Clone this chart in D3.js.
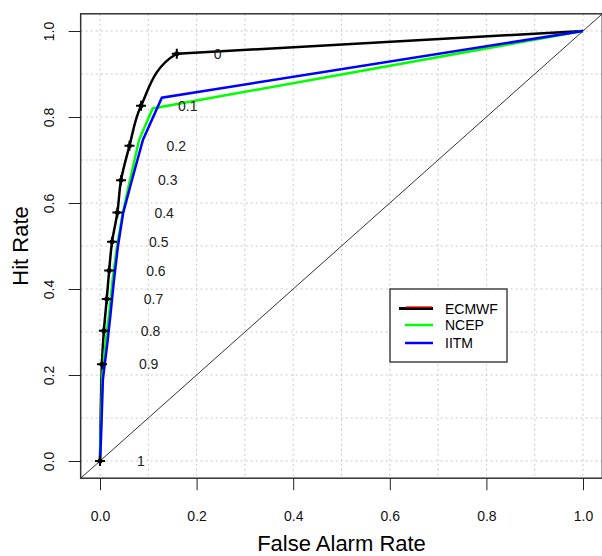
<!DOCTYPE html>
<html>
<head>
    <title>ROC curves</title>
    <style>
        body { margin: 0; background: #fff; }
        svg text { font-family: "Liberation Sans", Arial, sans-serif; }
        .grid line { stroke: #c8c8c8; stroke-dasharray: 2,3; }
        .axis line { stroke: #222; }
        .axis text { font-size: 14px; fill: #111; }
        .thr { font-size: 14px; fill: #222; }
    </style>
</head>
<body>
    <div id="chart"></div>

    <script src="https://d3js.org/d3.v7.min.js"></script>
    <script>
        // threshold labels shown next to the ECMWF points
        const thresholds = ["0", "0.1", "0.2", "0.3", "0.4", "0.5", "0.6", "0.7", "0.8", "0.9", "1"];

        // ECMWF (points at each threshold)
        const ecmwfFar = [0.159, 0.085, 0.061, 0.0435, 0.036, 0.025, 0.019, 0.014, 0.008, 0.004, 0];
        const ecmwfHit = [0.947, 0.826, 0.733, 0.653, 0.578, 0.510, 0.443, 0.377, 0.303, 0.225, 0];

        // NCEP
        const ncepFar = [0, 0.005, 0.012, 0.019, 0.026, 0.035, 0.047, 0.062, 0.081, 0.109, 1];
        const ncepHit = [0, 0.200, 0.280, 0.344, 0.421, 0.498, 0.577, 0.653, 0.747, 0.820, 1];

        // IITM
        const iitmFar = [0, 0.002, 0.006, 0.016, 0.022, 0.029, 0.037, 0.048, 0.066, 0.089, 0.128, 1];
        const iitmHit = [0, 0.050, 0.190, 0.281, 0.344, 0.421, 0.498, 0.577, 0.653, 0.747, 0.845, 1];

        const seriesNames = ["ECMWF", "NCEP", "IITM"];
        const seriesColors = ["#000000", "#00ff00", "#0000ff"];

        const xTicks = [0, 0.2, 0.4, 0.6, 0.8, 1.0];
        const yTicks = [0, 0.2, 0.4, 0.6, 0.8, 1.0];
        const gridVals = d3.range(0, 11).map(i => i / 10);

        const width = 602, height = 556;

        const x = d3.scaleLinear().domain([0, 1]).range([100, 583]);
        const y = d3.scaleLinear().domain([0, 1]).range([461, 31]);

        const x0 = x(-0.04), x1 = x(1.04);
        const y0 = y(-0.04), y1 = y(1.04);

        const svg = d3.select("#chart").append("svg")
            .attr("width", width)
            .attr("height", height);

        // dotted grid
        const grid = svg.append("g").attr("class", "grid");
        grid.selectAll(".gx").data(gridVals).enter().append("line")
            .attr("x1", d => x(d)).attr("x2", d => x(d))
            .attr("y1", y1).attr("y2", y0);
        grid.selectAll(".gy").data(gridVals).enter().append("line")
            .attr("y1", d => y(d)).attr("y2", d => y(d))
            .attr("x1", x0).attr("x2", x1);

        // diagonal (no skill)
        svg.append("line")
            .attr("x1", x(-0.04)).attr("y1", y(-0.04))
            .attr("x2", x(1.04)).attr("y2", y(1.04))
            .attr("stroke", "#333")
            .attr("stroke-width", 1);

        const line = d3.line()
            .x(d => x(d[0]))
            .y(d => y(d[1]));

        // ECMWF curve: smooth through the points, straight on to (1,1)
        const ecmwfPts = ecmwfFar.map((f, i) => [f, ecmwfHit[i]]).reverse();
        const last = ecmwfPts[ecmwfPts.length - 1];

        svg.append("clipPath").attr("id", "smoothClip")
            .append("rect")
            .attr("x", x0).attr("y", y1)
            .attr("width", x(last[0]) - x0).attr("height", y0 - y1);

        svg.append("path")
            .datum(ecmwfPts.concat([[1, 1]]))
            .attr("d", d3.line().x(d => x(d[0])).y(d => y(d[1])).curve(d3.curveCatmullRom.alpha(0.5)))
            .attr("clip-path", "url(#smoothClip)")
            .attr("fill", "none")
            .attr("stroke", seriesColors[0])
            .attr("stroke-width", 2.5);

        svg.append("path")
            .datum([last, [1, 1]])
            .attr("d", line)
            .attr("fill", "none")
            .attr("stroke", seriesColors[0])
            .attr("stroke-width", 2.5);

        svg.append("path")
            .datum(ncepFar.map((f, i) => [f, ncepHit[i]]))
            .attr("d", line)
            .attr("fill", "none")
            .attr("stroke", seriesColors[1])
            .attr("stroke-width", 2.5);

        svg.append("path")
            .datum(iitmFar.map((f, i) => [f, iitmHit[i]]))
            .attr("d", line)
            .attr("fill", "none")
            .attr("stroke", seriesColors[2])
            .attr("stroke-width", 2.5);

        // ECMWF markers
        const marks = svg.selectAll(".mk")
            .data(ecmwfFar.map((f, i) => [f, ecmwfHit[i]]))
            .enter().append("g")
            .attr("transform", d => `translate(${x(d[0])},${y(d[1])})`);
        marks.append("path")
            .attr("d", "M-5,0H5M0,-5V5")
            .attr("stroke", "#000")
            .attr("stroke-width", 2);
        marks.append("circle")
            .attr("r", 2.5)
            .attr("fill", "#000");

        // threshold labels
        svg.selectAll(".thr")
            .data(thresholds)
            .enter().append("text")
            .attr("class", "thr")
            .attr("x", (d, i) => x(ecmwfFar[i]) + 37)
            .attr("y", (d, i) => y(ecmwfHit[i]))
            .attr("dy", "0.36em")
            .text(d => d);

        // box
        svg.append("rect")
            .attr("x", x0).attr("y", y1)
            .attr("width", x1 - x0).attr("height", y0 - y1)
            .attr("fill", "none")
            .attr("stroke", "#333")
            .attr("stroke-width", 1.5);

        // axes
        const xAxis = svg.append("g")
            .attr("class", "axis")
            .attr("transform", `translate(0,${y0})`)
            .call(d3.axisBottom(x).tickValues(xTicks).tickFormat(d3.format(".1f")).tickSize(12).tickPadding(21));
        xAxis.select(".domain").remove();

        const yAxis = svg.append("g")
            .attr("class", "axis")
            .attr("transform", `translate(${x0},0)`)
            .call(d3.axisLeft(y).tickValues(yTicks).tickFormat(d3.format(".1f")).tickSize(12));
        yAxis.select(".domain").remove();
        yAxis.selectAll("text")
            .attr("transform", "rotate(-90)")
            .attr("x", 0)
            .attr("y", -32)
            .attr("dy", "0.36em")
            .style("text-anchor", "middle");

        // axis titles
        svg.append("text")
            .attr("x", (x(0) + x(1)) / 2)
            .attr("y", 543)
            .attr("dy", "0.36em")
            .attr("text-anchor", "middle")
            .style("font-size", "22px")
            .text("False Alarm Rate");

        svg.append("text")
            .attr("transform", `translate(20,${(y(0) + y(1)) / 2}) rotate(-90)`)
            .attr("dy", "0.36em")
            .attr("text-anchor", "middle")
            .style("font-size", "22px")
            .text("Hit Rate");

        // legend
        const legend = svg.append("g").attr("transform", "translate(390,289)");
        legend.append("rect")
            .attr("width", 117).attr("height", 73)
            .attr("fill", "#fff")
            .attr("stroke", "#444")
            .attr("stroke-width", 1.5);

        const rowY = [19.5, 36, 54];
        const items = legend.selectAll(".li")
            .data(seriesNames)
            .enter().append("g")
            .attr("transform", (d, i) => `translate(0,${rowY[i]})`);
        items.append("line")
            .attr("x1", (d, i) => i === 0 ? 9 : 15).attr("x2", 43)
            .attr("stroke", (d, i) => seriesColors[i])
            .attr("stroke-width", (d, i) => i === 0 ? 3 : 2.5);
        items.filter((d, i) => i === 0).append("line")
            .attr("x1", 16).attr("x2", 42)
            .attr("y1", -1.5).attr("y2", -1.5)
            .attr("stroke", "#ff0000")
            .attr("stroke-width", 1.3);
        items.append("text")
            .attr("x", 55)
            .attr("dy", "0.36em")
            .style("font-size", "14px")
            .text(d => d);
    </script>
</body>
</html>
